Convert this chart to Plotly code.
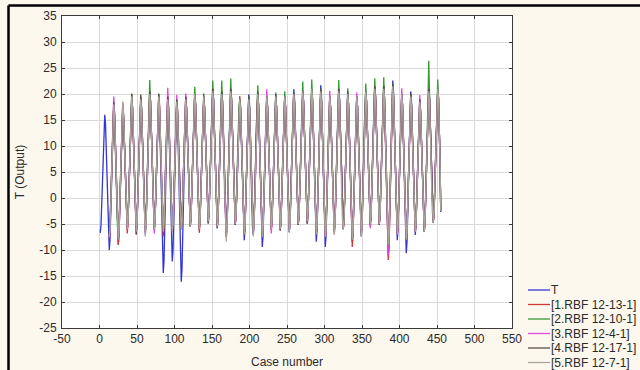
import itertools
import plotly.graph_objects as go

# ---------------- data (monthly values; one row per year of 12 cases) ----------------
series_names = ["T", "[1.RBF 12-13-1]", "[2.RBF 12-10-1]", "[3.RBF 12-4-1]", "[4.RBF 12-17-1]", "[5.RBF 12-7-1]"]

t_rows = [
    [-6.7, -5.2, -1.0, 4.6, 10.3, 14.5, 16.0, 14.3, 9.5, 3.0, -3.5, -8.3],
    [-10.0, -8.1, -3.0, 4.0, 11.0, 16.1, 18.0, 16.2, 11.2, 4.5, -2.2, -7.2],
    [-9.0, -7.2, -2.4, 4.2, 10.9, 15.7, 17.5, 15.9, 11.6, 5.7, -0.1, -4.4],
    [-6.0, -4.3, 0.2, 6.5, 12.8, 17.3, 19.0, 17.3, 12.6, 6.2, -0.1, -4.8],
    [-6.5, -4.8, -0.1, 6.2, 12.6, 17.3, 19.0, 17.3, 12.5, 6.0, -0.5, -5.3],
    [-7.0, -5.2, -0.1, 6.8, 13.6, 18.7, 20.5, 18.7, 13.9, 7.2, 0.6, -4.2],
    [-6.0, -4.3, 0.2, 6.5, 12.8, 17.3, 19.0, 16.8, 10.7, 2.3, -6.1, -12.2],
    [-14.4, -12.1, -5.9, 2.6, 11.0, 17.2, 19.5, 17.4, 11.6, 3.7, -4.3, -10.1],
    [-12.2, -10.1, -4.5, 3.2, 10.8, 16.4, 18.5, 16.2, 9.9, 1.2, -7.5, -13.8],
    [-16.1, -13.7, -7.3, 1.5, 10.2, 16.6, 19.0, 17.4, 12.9, 6.8, 0.6, -3.9],
    [-5.5, -3.8, 0.9, 7.3, 13.6, 18.3, 20.0, 18.3, 13.5, 7.0, 0.5, -4.3],
    [-6.0, -4.3, 0.2, 6.5, 12.8, 17.3, 19.0, 17.4, 13.0, 7.0, 1.1, -3.3],
    [-4.9, -3.2, 1.6, 8.0, 14.5, 19.3, 21.0, 19.2, 14.3, 7.6, 0.9, -4.0],
    [-5.8, -4.0, 0.8, 7.4, 13.9, 18.7, 20.5, 18.6, 13.5, 6.5, -0.5, -5.6],
    [-7.5, -5.6, -0.4, 6.8, 13.9, 19.1, 21.0, 19.2, 14.5, 7.9, 1.4, -3.4],
    [-5.2, -3.6, 0.9, 6.9, 13.0, 17.4, 19.0, 17.2, 12.2, 5.5, -1.3, -6.3],
    [-8.1, -6.2, -1.1, 5.9, 12.9, 18.0, 19.9, 18.1, 13.2, 6.5, -0.3, -5.2],
    [-7.0, -5.2, -0.3, 6.5, 13.3, 18.2, 20.0, 18.0, 12.7, 5.3, -2.1, -7.4],
    [-9.4, -7.5, -2.2, 5.1, 12.3, 17.6, 19.5, 17.8, 13.1, 6.8, 0.4, -4.3],
    [-6.0, -4.3, 0.4, 6.8, 13.1, 17.8, 19.5, 17.8, 13.1, 6.8, 0.4, -4.3],
    [-6.0, -4.3, 0.4, 6.8, 13.1, 17.8, 19.5, 17.8, 13.0, 6.5, 0.0, -4.8],
    [-6.5, -4.7, 0.4, 7.2, 14.1, 19.1, 20.9, 19.2, 14.4, 7.9, 1.3, -3.5],
    [-5.2, -3.5, 1.2, 7.7, 14.1, 18.8, 20.5, 18.8, 14.2, 7.8, 1.5, -3.2],
    [-4.9, -3.2, 1.6, 8.0, 14.5, 19.3, 21.0, 19.0, 13.7, 6.3, -1.1, -6.4],
    [-8.4, -6.4, -0.9, 6.7, 14.2, 19.7, 21.7, 19.6, 13.9, 6.2, -1.6, -7.3],
    [-9.4, -7.5, -2.2, 5.1, 12.3, 17.6, 19.5, 17.8, 13.0, 6.5, 0.0, -4.8],
    [-6.5, -4.7, 0.4, 7.3, 14.1, 19.2, 21.0, 19.2, 14.3, 7.5, 0.8, -4.2],
    [-6.0, -4.3, 0.5, 7.0, 13.5, 18.3, 20.0, 18.1, 12.9, 5.8, -1.4, -6.6],
    [-8.5, -6.6, -1.5, 5.5, 12.5, 17.6, 19.5, 17.7, 12.8, 6.1, -0.7, -5.6],
    [-7.4, -5.5, -0.4, 6.6, 13.5, 18.6, 20.5, 18.8, 14.0, 7.5, 1.0, -3.8],
    [-5.5, -3.7, 1.3, 8.0, 14.8, 19.7, 21.5, 19.7, 14.8, 8.2, 1.5, -3.4],
    [-5.2, -3.4, 1.5, 8.2, 14.8, 19.7, 21.5, 19.3, 13.4, 5.3, -2.9, -8.8],
    [-11.0, -8.7, -2.6, 5.8, 14.2, 20.3, 22.6, 20.5, 14.9, 7.3, -0.4, -6.0],
    [-8.1, -6.2, -1.1, 6.0, 13.0, 18.1, 20.0, 17.9, 12.4, 4.7, -3.0, -8.5],
    [-10.6, -8.5, -2.8, 5.0, 12.7, 18.4, 20.5, 18.7, 13.6, 6.7, -0.2, -5.3],
    [-7.1, -5.4, -0.7, 5.7, 12.1, 16.8, 18.5, 16.8, 12.3, 6.0, -0.3, -4.8],
    [-6.5, -4.7, 0.4, 7.3, 14.1, 19.2, 21.0, 19.3, 14.6, 8.2, 1.7, -3.0],
    [-4.7, -3.0, 1.7, 8.2, 14.6, 19.3, 21.0, 19.3, 14.5, 7.5, -2.7],
]

m1_rows = [
    [-8, -6, -1.5, 5, 11.5, 16, 18, 16, 11, 4.5, -2, -7],
    [-9, -7, -2.5, 4, 11, 15.5, 17.5, 15.8, 11.4, 5.4, -0.7, -5],
    [-6.8, -5, -0.4, 6, 12.5, 17.2, 19, 17.2, 12.5, 6, -0.5, -5.2],
    [-7, -5.2, -0.5, 6, 12.5, 17.2, 19, 17.2, 12.6, 6.2, -0.1, -4.8],
    [-6.5, -4.6, 0.3, 7, 13.8, 18.6, 20.5, 18.6, 13.9, 7.2, 0.6, -4.2],
    [-6, -4.2, 0.5, 7, 13.5, 18.2, 20, 18.1, 13.2, 6.3, -0.6, -5.5],
    [-7.4, -5.5, -0.7, 6, 12.8, 17.6, 19.5, 17.7, 13, 6.5, 0, -4.7],
    [-6.5, -4.8, -0.3, 6, 12.3, 16.8, 18.5, 16.8, 12.4, 6.3, 0.1, -4.3],
    [-6, -4.3, 0.3, 6.5, 12.8, 17.3, 19, 17.3, 12.9, 6.8, 0.6, -3.9],
    [-5.5, -3.8, 0.9, 7.3, 13.6, 18.3, 20, 18.2, 13.3, 6.7, 0, -4.9],
    [-6.7, -4.9, 0, 6.4, 13, 17.7, 19.5, 17.9, 13.5, 7.5, 1.5, -2.9],
    [-4.5, -2.8, 1.8, 8, 14.3, 18.8, 20.5, 18.8, 14, 7.5, 1, -3.8],
    [-5.5, -3.8, 1, 7.5, 14, 18.8, 20.5, 18.7, 13.6, 6.8, -0.1, -5.2],
    [-7, -5.1, 0, 7, 14, 19.1, 21, 19.3, 14.5, 8, 1.5, -3.3],
    [-5, -3.4, 1.2, 7.3, 13.5, 17.9, 19.6, 17.8, 13, 6.3, -0.4, -5.2],
    [-7, -5.3, -0.5, 6, 12.5, 17.3, 19, 17.3, 12.6, 6.3, -0.1, -4.8],
    [-6.5, -4.7, 0.1, 6.8, 13.4, 18.2, 20, 18.2, 13.1, 6.3, -0.6, -5.7],
    [-7.5, -5.7, -0.8, 6, 12.8, 17.7, 19.5, 17.8, 13.1, 6.8, 0.4, -4.3],
    [-6, -4.3, 0.4, 6.8, 13.1, 17.8, 19.5, 17.8, 13, 6.6, 0.2, -4.6],
    [-6.3, -4.6, 0.2, 6.6, 13, 17.8, 19.5, 17.8, 13.1, 6.8, 0.4, -4.3],
    [-6, -4.3, 0.5, 7, 13.5, 18.3, 20, 18.3, 13.8, 7.5, 1.3, -3.3],
    [-5, -3.3, 1.4, 7.8, 14.1, 18.8, 20.5, 18.8, 14.2, 7.8, 1.5, -3.2],
    [-4.9, -3.2, 1.6, 8, 14.5, 19.3, 21, 19.1, 14, 7, 0, -5.1],
    [-7, -5.2, -0.1, 6.8, 13.6, 18.7, 20.5, 18.6, 13.5, 6.5, -0.5, -5.6],
    [-7.5, -5.7, -0.8, 6, 12.8, 17.7, 19.5, 17.7, 12.9, 6.3, -0.4, -5.2],
    [-7, -5.2, -0.1, 6.8, 13.6, 18.7, 20.5, 18.7, 13.9, 7.3, 0.6, -4.2],
    [-6, -4.3, 0.5, 7, 13.5, 18.3, 20, 18, 12.7, 5.3, -2.1, -7.4],
    [-9.4, -7.5, -2.2, 5, 12.3, 17.6, 19.5, 17.8, 13, 6.5, 0, -4.8],
    [-6.5, -4.7, 0.3, 7, 13.8, 18.7, 20.5, 18.8, 14.1, 7.8, 1.4, -3.3],
    [-5, -3.2, 1.6, 8.3, 14.9, 19.7, 21.5, 19.7, 14.9, 8.3, 1.6, -3.2],
    [-5, -3.2, 1.6, 8.3, 14.9, 19.7, 21.5, 19.3, 13.2, 4.8, -3.6, -9.7],
    [-11.9, -9.7, -3.6, 4.8, 13.2, 19.3, 21.5, 19.6, 14.4, 7.3, 0.1, -5.1],
    [-7, -5.2, -0.3, 6.5, 13.3, 18.2, 20, 18.1, 13, 6, -1, -6.1],
    [-8, -6.2, -1.1, 5.8, 12.6, 17.7, 19.5, 17.8, 13, 6.5, 0, -4.8],
    [-6.5, -4.8, -0.3, 6, 12.3, 16.8, 18.5, 16.8, 12.3, 6, -0.3, -4.8],
    [-6.5, -4.7, 0.4, 7.3, 14.1, 19.2, 21, 19.3, 14.6, 8.2, 1.7, -3],
    [-4.7, -3, 1.7, 8.2, 14.6, 19.3, 21, 19.3, 14.5, 7.5, -2.5],
]

m2_rows = [
    [-7, -5, -0.5, 5.5, 11.5, 15.5, 17.5, 15.5, 9, 4.5, -1.5, -5.5],
    [-7, -5, -0.5, 5, 11, 15.5, 17, 15.5, 11.5, 6, 0, -4],
    [-5.5, -4, 0.5, 6.5, 13, 17.5, 20.1, 17.5, 12.5, 6.5, 0, -4.5],
    [-6, -4.5, 0, 6.5, 12.5, 17.5, 19.5, 17.5, 12.5, 6.5, 0, -4.5],
    [-6, -4.5, 0.5, 7, 13.5, 18.5, 22.7, 18.5, 14, 7.5, 1, -4],
    [-5.5, -4, 0.5, 6.5, 13, 17.5, 19, 17, 12, 5, -1, -4.5],
    [-5.5, -4, 0.5, 6.5, 12.5, 17.5, 19, 17, 13, 6.5, 0.5, -4.5],
    [-6, -4.5, 0, 6, 12, 16.5, 18.5, 16.5, 12.5, 6.5, 0.5, -4],
    [-5.5, -4, 0.5, 6.5, 12.5, 17.5, 19.5, 17.5, 13, 7, 1, -3.5],
    [-5, -3.5, 1, 7.5, 13.5, 18.5, 21.4, 18.5, 13.5, 7, 0.5, -4],
    [-5.5, -4, 0.5, 6.5, 12.5, 17.5, 19.5, 17.5, 13.5, 7.5, 1.5, -2.5],
    [-4, -2.5, 2, 8, 14.5, 19, 22.6, 19, 14, 7.5, 1, -3.5],
    [-5, -3.5, 1, 7.5, 14, 18.5, 22.6, 18.5, 13.5, 7, 0, -4.5],
    [-6.5, -5, 0, 7, 14, 19, 23, 19, 14.5, 8, 1.5, -3],
    [-4.5, -3, 1, 7, 13, 17.5, 19, 17.5, 13, 6, -0.5, -5],
    [-6.5, -5, -0.5, 6, 12.5, 17.5, 19.5, 17.5, 12.5, 6.5, 0, -4.5],
    [-6, -4.5, 0.5, 7, 13.5, 18, 21.7, 18, 13, 6.5, -0.5, -5.5],
    [-7, -5.5, -0.5, 6, 12.5, 17.5, 19.5, 17.5, 13, 7, 0.5, -4],
    [-5.5, -4, 0.5, 7, 13, 17.5, 20.3, 17.5, 13, 7, 0.5, -4],
    [-5.5, -4, 0.5, 7, 13, 17.5, 20.5, 17.5, 13, 7, 0.5, -4],
    [-5.5, -4, 0.5, 7, 13.5, 18.5, 20.5, 18.5, 14, 7.5, 1.5, -3],
    [-4.5, -3, 1.5, 8, 14, 18.5, 22.4, 18.5, 14, 8, 1.5, -3],
    [-4.5, -3, 1.5, 8, 14.5, 19, 22.8, 19, 14, 7, 0, -5],
    [-6.5, -5, 0, 7, 13.5, 18.5, 21, 18.5, 13.5, 6.5, -0.5, -5.5],
    [-7, -5.5, -0.5, 6, 12.5, 17.5, 19.5, 17.5, 13, 6.5, 0, -4.5],
    [-6, -4.5, 0.5, 7, 14, 18.5, 22.7, 18.5, 14, 7.5, 1, -4],
    [-5.5, -4, 0.5, 7, 13.5, 18, 21.1, 18, 13, 6, -0.5, -5.5],
    [-7, -5.5, -0.5, 6, 12.5, 17.5, 19.5, 17.5, 13, 6.5, 0, -4.5],
    [-6, -4.5, 0.5, 7, 13.5, 18.5, 22, 18.5, 14, 7.5, 1.5, -3],
    [-4.5, -3, 1.5, 8.5, 15, 19.5, 23, 19.5, 15, 8.5, 1.5, -3],
    [-4.5, -3, 1.5, 8.5, 15, 19.5, 23.2, 19, 13.5, 6, -1.5, -6.5],
    [-8, -6.5, -1, 6.5, 14, 19.5, 22, 19.5, 14.5, 7.5, 0, -5],
    [-6.5, -5, 0, 6.5, 13, 18, 20, 18, 13, 6, -1, -6],
    [-7.5, -6, -1, 6, 12.5, 17.5, 20, 18, 13, 6.5, 0, -4.5],
    [-6, -4.5, 0, 6, 12.5, 17, 19, 17, 12.5, 6, 0, -4.5],
    [-6, -4.5, 0.5, 7.5, 14, 19, 26.4, 19.5, 14.5, 8, 2, -3],
    [-4.5, -3, 2, 8, 14.5, 19.5, 22.8, 19, 14.5, 7.5, -2.5],
]

m3_rows = [
    [-7.5, -6, -1, 5.5, 12, 17, 19.5, 16.5, 11.5, 5, -1.5, -6],
    [-7.5, -6, -1.5, 5, 11.5, 16, 18.5, 16, 11.5, 5.5, -0.5, -4.5],
    [-6, -4.5, 0, 6.5, 12.5, 17, 19, 17, 12.5, 6, 0, -4.5],
    [-6, -4.5, 0, 6, 12.5, 16.5, 18.5, 17, 12.5, 6, -0.5, -5],
    [-6.5, -5, 0, 7, 13.5, 18, 20, 18.5, 13.5, 7, 0.5, -4.5],
    [-6.8, -5, -0.5, 6.5, 12.5, 17.5, 19.5, 17.5, 12.5, 6, -0.5, -4],
    [-5, -3.5, 1, 7, 13, 18, 21.2, 17.5, 13, 6.5, 0.5, -4.5],
    [-6, -4.5, 0, 6, 12.5, 17, 19.8, 17, 12.5, 6.5, 0.5, -4],
    [-5.5, -4, 0.5, 6.5, 13, 17.5, 20.1, 17.5, 13, 7, 1, -3.5],
    [-5, -3.5, 1, 7, 13.5, 18, 19.5, 18, 13, 6.5, 0, -4],
    [-5.5, -4, 0.5, 6.5, 12.5, 17, 19, 17.5, 13, 7.5, 1.5, -2.5],
    [-4, -2.5, 2, 8, 14, 18.5, 20.5, 18.5, 14, 7.5, 1, -3.5],
    [-5, -3.5, 1, 7.5, 13.5, 18, 20, 18, 13.5, 6.5, -0.5, -5],
    [-7, -5, 0, 7, 13.5, 18.5, 20.5, 18.5, 14, 8, 1.5, -3.5],
    [-5, -3.5, 1, 7, 12.5, 17, 18.5, 17, 12, 5.5, -1, -5.5],
    [-7, -5.5, -0.5, 6, 12.5, 17, 19, 17.5, 12.5, 6.5, 0, -5],
    [-6.5, -5, 0, 6.5, 13, 18, 20, 18, 12.5, 5.5, -1.5, -6],
    [-7.5, -6, -1, 5.5, 12.5, 17.5, 20.9, 17.5, 13, 7, 0.5, -5],
    [-6.8, -5, 0, 6.5, 13, 17.5, 19.5, 17.5, 13, 6.5, 0, -4],
    [-5.5, -4, 0.5, 7, 13, 17.5, 19.5, 17.5, 13, 6.5, 0, -4.5],
    [-6, -4.5, 0.5, 7, 13.5, 18, 20, 18.5, 14, 7.5, 1, -3.5],
    [-5, -3.5, 1.5, 7.5, 14, 18.5, 20, 18.5, 14, 7.5, 1.5, -3],
    [-4.5, -3, 1.5, 8, 14, 18.5, 20.5, 18.5, 13.5, 6.5, -0.5, -5.5],
    [-7, -5.5, -0.5, 6.5, 13.5, 18.5, 20.5, 18.5, 13.5, 6, -1, -6],
    [-7.5, -6, -1, 5.5, 12.5, 17.5, 20.6, 17.5, 13, 6.5, 0, -4.5],
    [-6, -4.5, 0.5, 7, 13.5, 18.5, 20.5, 18.5, 14, 7, 0.5, -4],
    [-5.5, -4, 0.5, 7, 13.5, 18, 20, 18, 12.5, 5.5, -1.5, -6],
    [-7.5, -6, -1, 5.5, 12.5, 17.5, 20.3, 17.5, 12.5, 6, -0.5, -5],
    [-6.5, -5, 0, 6.5, 13, 18, 20, 18.5, 13.5, 7, 0.5, -4],
    [-5.8, -4, 1, 8, 14.5, 19, 21, 19.5, 14.5, 8, 1.5, -3.5],
    [-5, -3.5, 1.5, 8, 14.5, 19, 21, 19, 13, 5, -3, -9],
    [-11, -9, -3, 5, 13.5, 19.5, 21.5, 19.5, 14.5, 7, -0.5, -5.5],
    [-7, -5.5, -0.5, 6.5, 13, 18, 21.1, 17.5, 12.5, 5.5, -1.5, -6.5],
    [-8, -6.5, -1.5, 5.5, 12.5, 17.5, 19.5, 17.5, 13, 6.5, 0, -5],
    [-6.5, -5, -0.5, 6, 12, 16.5, 19.8, 16.5, 12, 6, -0.5, -4.5],
    [-6, -4.5, 0.5, 7, 14, 18.5, 20.5, 19, 14.5, 8, 1.5, -3],
    [-4.5, -3, 1.5, 8, 14.5, 19, 20.5, 19, 14, 7.5, -2.5],
]

m4_rows = [
    [-7, -5.5, -0.5, 5.5, 12, 16.5, 18.5, 16.5, 11.5, 5, -1.5, -6],
    [-8, -6.5, -2, 5, 11.5, 16, 18, 16, 11.5, 6, 0, -4.5],
    [-6, -4.5, 0, 6.5, 13, 17.5, 20, 17.5, 12.5, 6, -0.5, -5],
    [-7, -5, -0.5, 6, 12.5, 17.5, 19.9, 17.5, 12.5, 6, -0.5, -5],
    [-6.5, -5, 0, 7, 13.5, 18.5, 20.5, 18.5, 13.5, 7, 0.5, -4.5],
    [-6, -4.5, 0.5, 7, 13, 18, 20.1, 17.5, 12.5, 6, -0.5, -5],
    [-6.5, -5, 0, 6.5, 13, 17.5, 19.5, 17.5, 13, 6.5, 0, -4.5],
    [-6.5, -5, 0, 6, 12.5, 17, 19, 17, 12.5, 6, 0, -4.5],
    [-6, -4.5, 0.5, 6.5, 13, 17.5, 19.5, 17.5, 13, 7, 0.5, -4],
    [-5.5, -4, 1, 7, 13.5, 18, 20, 18, 13, 6.5, 0, -4.5],
    [-6, -4.5, 0.5, 6.5, 13, 17.5, 20.1, 17.5, 13, 7, 1, -3.5],
    [-4.9, -3, 1.5, 8, 14.5, 19, 21, 19, 14, 7.5, 0.5, -4],
    [-5.8, -4, 1, 7.5, 14, 18.5, 20.5, 18.5, 13.5, 6.5, -0.5, -5.5],
    [-7.5, -5.5, -0.5, 7, 14, 19, 21, 19, 14.5, 8, 1.5, -3.5],
    [-5.2, -3.5, 1, 7, 13, 17.5, 19, 17.5, 12.5, 5.5, -1, -5.5],
    [-7, -5.5, -0.5, 6, 13, 17.5, 19.5, 17.5, 13, 6.5, -0.5, -5.5],
    [-7, -5, -0.5, 6.5, 13.5, 18.5, 20.5, 18, 12.5, 5.5, -1.5, -6],
    [-7.5, -6, -1, 5.5, 12.5, 17.5, 19.5, 17.5, 13, 6.5, 0, -4.5],
    [-6, -4.5, 0.5, 7, 13, 18, 20, 17.5, 13, 6.5, 0, -4.5],
    [-6.3, -4.5, 0.5, 6.5, 13, 17.5, 19.5, 17.5, 13, 6.5, 0, -5],
    [-6.5, -5, 0.5, 7, 13.5, 18.5, 20.3, 18.5, 14, 7.5, 1, -3.5],
    [-5.2, -3.5, 1, 7.5, 14, 18.5, 20.5, 18.5, 14, 7.5, 1.5, -3.5],
    [-4.9, -3, 1.5, 8, 14.5, 19, 21, 19, 13.5, 6.5, -0.5, -5.5],
    [-7, -5.5, -0.5, 7, 14, 19, 21, 19, 13.5, 6.5, -1, -6],
    [-7.5, -6, -1, 5.5, 12.5, 17.5, 19.5, 17.5, 13, 6.5, 0, -5],
    [-6.5, -4.5, 0.5, 7, 14, 19, 21, 19, 14, 7.5, 0.5, -4.5],
    [-6, -4.5, 0.5, 7, 13.5, 18.5, 20.5, 18, 12.5, 5.5, -1.5, -6.5],
    [-8, -6.5, -1.5, 5.5, 12.5, 17.5, 19.5, 17.5, 12.5, 6, -0.5, -5.5],
    [-7, -5, -0.5, 6.5, 13.5, 18.5, 20.5, 18.5, 14, 7.5, 1, -3.5],
    [-5, -3.5, 1.5, 8, 14.5, 19.5, 21.5, 19.5, 14.5, 8, 1.5, -3.5],
    [-5.2, -3.5, 1.5, 8, 14.5, 19.5, 21.5, 19, 13, 5, -2.5, -7.5],
    [-9, -7.5, -2, 6, 14, 20, 22, 20, 14.5, 7, -0.5, -5.5],
    [-7, -5.5, -0.5, 6, 13, 18, 20, 18, 12.5, 5, -2, -6.5],
    [-8, -6.5, -1.5, 5.5, 12.5, 18, 20, 18, 13, 6.5, 0, -5],
    [-6.5, -5, -0.5, 6, 12, 17, 19, 17, 12.5, 6, -0.5, -5],
    [-6.5, -4.5, 0.5, 7, 14, 19, 21, 19, 14.5, 8, 1.5, -3],
    [-4.7, -3, 1.5, 8, 14.5, 19, 21, 19, 14.5, 7.5, -2.5],
]

m5_rows = [
    [-7.5, -6, -1, 5, 11.5, 16, 18, 16, 11, 4.5, -2, -6.5],
    [-8, -6.5, -1.5, 5, 11.5, 16.5, 18.5, 16.5, 11.5, 5.5, -0.5, -4.5],
    [-6, -4.5, 0, 6.5, 12.5, 17.5, 19.5, 17.5, 12.5, 6, -0.5, -4.5],
    [-6.5, -5, -0.5, 6, 12.5, 17, 19, 17, 12.5, 6, -0.5, -5.5],
    [-7.4, -5.5, -0.5, 6.5, 13.5, 18, 20, 18, 13.5, 7, 0.5, -4.5],
    [-6, -4.5, 0, 6.5, 12.5, 17.5, 19.5, 17.5, 12.5, 6, -0.5, -5],
    [-6.5, -5, 0, 6.5, 12.5, 17, 19, 17, 12.5, 6.5, 0, -4.5],
    [-6.5, -5, 0, 6, 12, 16.5, 18.5, 16.5, 12.5, 6, 0, -4.5],
    [-6, -4.5, 0.5, 6.5, 12.5, 17, 19, 17, 12.5, 6.5, 0.5, -4],
    [-5.5, -4, 1, 7, 13.5, 18, 20, 18, 13, 6.5, 0, -4.5],
    [-6, -4.5, 0.5, 6.5, 12.5, 17.5, 19.5, 17.5, 13, 7, 1, -3],
    [-4.5, -3, 1.5, 8, 14, 18.5, 20.5, 18.5, 14, 7.5, 0.5, -4],
    [-5.5, -4, 1, 7, 13.5, 18, 20, 18, 13, 6, -1, -6],
    [-8.4, -6, -0.5, 6.5, 13.5, 18.5, 20.5, 18.5, 14, 7.5, 1, -3.5],
    [-5, -3.5, 1, 7, 13, 17, 19, 17, 12, 5.5, -1, -5.5],
    [-7, -5.5, -0.5, 6, 12.5, 17, 19, 17, 12.5, 6, -0.5, -5.5],
    [-7.4, -5.5, -0.5, 6.5, 13, 18, 20, 18, 12.5, 5.5, -1.5, -6],
    [-7.5, -6, -1, 5.5, 12.5, 17.5, 19.5, 17.5, 13, 6.5, 0, -4.5],
    [-6, -4.5, 0.5, 6.5, 13, 17.5, 19.5, 17.5, 13, 6.5, 0, -4.5],
    [-6, -4.5, 0.5, 6.5, 13, 17.5, 19.5, 17.5, 13, 6.5, 0, -5],
    [-6.7, -5, 0, 7, 13.5, 18, 20, 18, 13.5, 7.5, 1, -3.5],
    [-5, -3.5, 1, 7.5, 14, 18.5, 20.5, 18.5, 14, 7.5, 1.5, -3],
    [-4.5, -3, 1.5, 8, 14.5, 19, 21, 19, 13.5, 6, -1, -5.5],
    [-7, -5.5, -0.5, 6.5, 13.5, 18.5, 20.5, 18.5, 13.5, 6, -1, -6],
    [-7.5, -6, -1, 5.5, 12.5, 17.5, 19.5, 17.5, 12.5, 6, -0.5, -5],
    [-7, -5, 0, 7, 13.5, 18.5, 20.5, 18.5, 14, 7, 0.5, -4.5],
    [-6, -4.5, 0.5, 7, 13.5, 18, 20, 18, 12.5, 5.5, -1.5, -6.5],
    [-8, -6.5, -1.5, 5.5, 12.5, 17.5, 19.5, 17.5, 12.5, 6, -0.5, -5.5],
    [-7.4, -5.5, -0.5, 6.5, 13.5, 18.5, 20.5, 18.5, 13.5, 7, 1, -3.5],
    [-5, -3.5, 1.5, 8, 14.5, 19, 21, 19, 14.5, 8, 1.5, -3.5],
    [-5, -3.5, 1.5, 8, 14.5, 19, 21, 19, 13, 5, -2.5, -7.5],
    [-9, -7.5, -2, 6, 13.5, 19.5, 21.5, 19.5, 14.5, 7, -0.5, -5.5],
    [-7, -5.5, -0.5, 6, 13, 18, 20, 18, 12.5, 5, -2, -6.5],
    [-8, -6.5, -1.5, 5.5, 12.5, 17.5, 19.5, 17.5, 13, 6.5, 0, -5],
    [-6.5, -5, -0.5, 6, 12, 16.5, 18.5, 16.5, 12, 6, -0.5, -5],
    [-6.5, -4.5, 0.5, 7, 14, 18.5, 20.5, 18.5, 14.5, 8, 1.5, -3],
    [-4.7, -3, 1.5, 8, 14.5, 19, 21, 19, 14.5, 7.5, -2.5],
]

t_start_case = 1       # first case of the observed series
model_start_case = 13  # models with 12 inputs start predicting at case 13

x_ticks = [-50, 0, 50, 100, 150, 200, 250, 300, 350, 400, 450, 500, 550]
y_ticks = [-25, -20, -15, -10, -5, 0, 5, 10, 15, 20, 25, 30, 35]

# ---------------- styling ----------------
colors = ["#3535d5", "#d23a3a", "#389a38", "#e448e4", "#5a4f4b", "#ada59e"]
FONT = "Liberation Sans, Arial, sans-serif"
W, H = 640, 370
ML, MR, MT, MB = 62, 128, 16, 42
PW, PH = W - ML - MR, H - MT - MB


def px2x(px):
    return (px - ML) / PW


def py2y(py):
    return (H - MB - py) / PH


fig = go.Figure()
all_rows = [t_rows, m1_rows, m2_rows, m3_rows, m4_rows, m5_rows]
starts = [t_start_case] + [model_start_case] * 5
for name, rows, start, col in zip(series_names, all_rows, starts, colors):
    vals = list(itertools.chain.from_iterable(rows))
    cases = list(range(start, start + len(vals)))
    fig.add_trace(go.Scatter(x=cases, y=vals, mode="lines", name=name,
                             line=dict(color=col, width=1.3), showlegend=False))

axis_common = dict(showgrid=True, gridcolor="#d9d9d9", gridwidth=1,
                   showline=True, linecolor="#3a3a3a", linewidth=1, mirror="ticks",
                   ticks="inside", ticklen=3, tickcolor="#3a3a3a",
                   zeroline=False, tickfont=dict(family=FONT, size=12, color="#2a2a2a"))

fig.update_xaxes(range=[-50, 550], tickvals=x_ticks, ticktext=[str(v) for v in x_ticks],
                 title=dict(text="Case number", font=dict(family=FONT, size=12, color="#2a2a2a"), standoff=12),
                 **axis_common)
fig.update_yaxes(range=[-25, 35], tickvals=y_ticks, ticktext=[str(v) for v in y_ticks],
                 title=dict(text="T (Output)", font=dict(family=FONT, size=12, color="#2a2a2a"), standoff=12),
                 ticklabelstandoff=2, **axis_common)

shapes = []
annotations = []
# custom compact legend
leg_y = [290, 304.5, 319, 333.5, 348, 362.5]
for name, col, ly in zip(series_names, colors, leg_y):
    shapes.append(dict(type="line", xref="paper", yref="paper",
                       x0=px2x(528), x1=px2x(550), y0=py2y(ly), y1=py2y(ly),
                       line=dict(color=col, width=1.3)))
    annotations.append(dict(xref="paper", yref="paper", x=px2x(549), y=py2y(ly),
                            text=name, showarrow=False, xanchor="left", yanchor="middle",
                            font=dict(family=FONT, size=12, color="#2a2a2a")))

# black page frame (top and left)
shapes.append(dict(type="line", xref="paper", yref="paper", x0=px2x(8.5), x1=px2x(645),
                   y0=py2y(5.5), y1=py2y(5.5), line=dict(color="#000", width=2.5)))
shapes.append(dict(type="line", xref="paper", yref="paper", x0=px2x(8.5), x1=px2x(8.5),
                   y0=py2y(5.5), y1=py2y(375), line=dict(color="#000", width=2.5)))

fig.update_layout(width=W, height=H, margin=dict(l=ML, r=MR, t=MT, b=MB, autoexpand=False),
                  paper_bgcolor="#fdf8ee", plot_bgcolor="#ffffff",
                  font=dict(family=FONT, size=12, color="#2a2a2a"),
                  shapes=shapes, annotations=annotations, showlegend=False)

fig.write_html("out.html")
